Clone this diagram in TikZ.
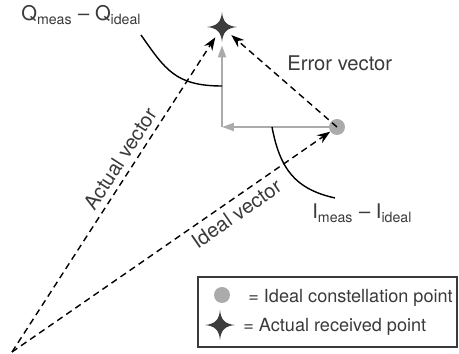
\documentclass[tikz,border=0pt]{standalone}
\usepackage{fontspec}
\setmainfont{TeX Gyre Heros}
\usepackage{tikz}
\usetikzlibrary{arrows.meta, positioning, calc}

\definecolor{textgray}{HTML}{3A3A3A}
\definecolor{compgray}{HTML}{ABABAB}
\definecolor{stargray}{HTML}{3D3D3D}

\begin{document}
\begin{tikzpicture}[x=0.2mm, y=0.2mm,
    font=\fontsize{11.5}{14}\selectfont, text=textgray,
    vec/.style={line width=0.8pt, dash pattern=on 1.3mm off 0.9mm,
      -{Stealth[length=2.6mm, width=1.9mm]}},
    comp/.style={line width=1.1pt, compgray,
      -{Triangle[length=2.4mm, width=1.6mm]}},
    leader/.style={line width=0.8pt},
    lbl/.style={anchor=base west, inner sep=0pt},
    idealpt/.style={circle, fill=compgray, minimum size=3.2mm, inner sep=0pt},
    fourstar/.pic={
      \fill[stargray] (0,15) .. controls (1,5) and (5,1) .. (15,0)
        .. controls (5,-1) and (1,-5) .. (0,-15)
        .. controls (-1,-5) and (-5,-1) .. (-15,0)
        .. controls (-5,1) and (-1,5) .. (0,15) -- cycle;
    }]
  \useasboundingbox (0,0) rectangle (459,354);

  % points
  \coordinate (O) at (12,2);
  \coordinate (K) at (222,227);
  \node[idealpt] (ideal) at (337,227) {};
  \node[circle, minimum size=4.8mm, inner sep=0pt] (actual) at (222,327) {};
  \pic at (actual) {fourstar};

  % I and Q components
  \draw[comp] (ideal) -- (K);
  \draw[comp, shorten >=1.2mm] (K) -- (actual);

  % vectors
  \draw[vec] (O) -- node[above, sloped, pos=0.59] {Actual vector} (actual);
  \draw[vec] (O) -- node[below, sloped, pos=0.68] {Ideal vector} (ideal);
  \draw[vec] (ideal.center) -- (actual);

  % labels
  \node[lbl] (errlabel) at (287,283) {Error vector};
  \node[lbl] (qlabel) at (21,333) {Q\textsubscript{meas} – Q\textsubscript{ideal}};
  \node[lbl] (ilabel) at (312,135) {I\textsubscript{meas} – I\textsubscript{ideal}};

  % leader curves
  \draw[leader] (141,319) .. controls (165,285) and (175,268) .. (222,268);
  \draw[leader] (272,227) .. controls (280,185) and (295,165) .. (335,156);

  % legend
  \draw[line width=0.7pt, textgray] (198,7) rectangle (457,77);
  \begin{scope}[font=\fontsize{10.3}{12}\selectfont]
    \node[idealpt] (legideal) at (222,59) {};
    \node[lbl] (legidealtxt) at (248,51) {= Ideal constellation point};
    \pic at (220,29) {fourstar};
    \node[lbl] (legactualtxt) at (243,22) {= Actual received point};
  \end{scope}
\end{tikzpicture}
\end{document}
